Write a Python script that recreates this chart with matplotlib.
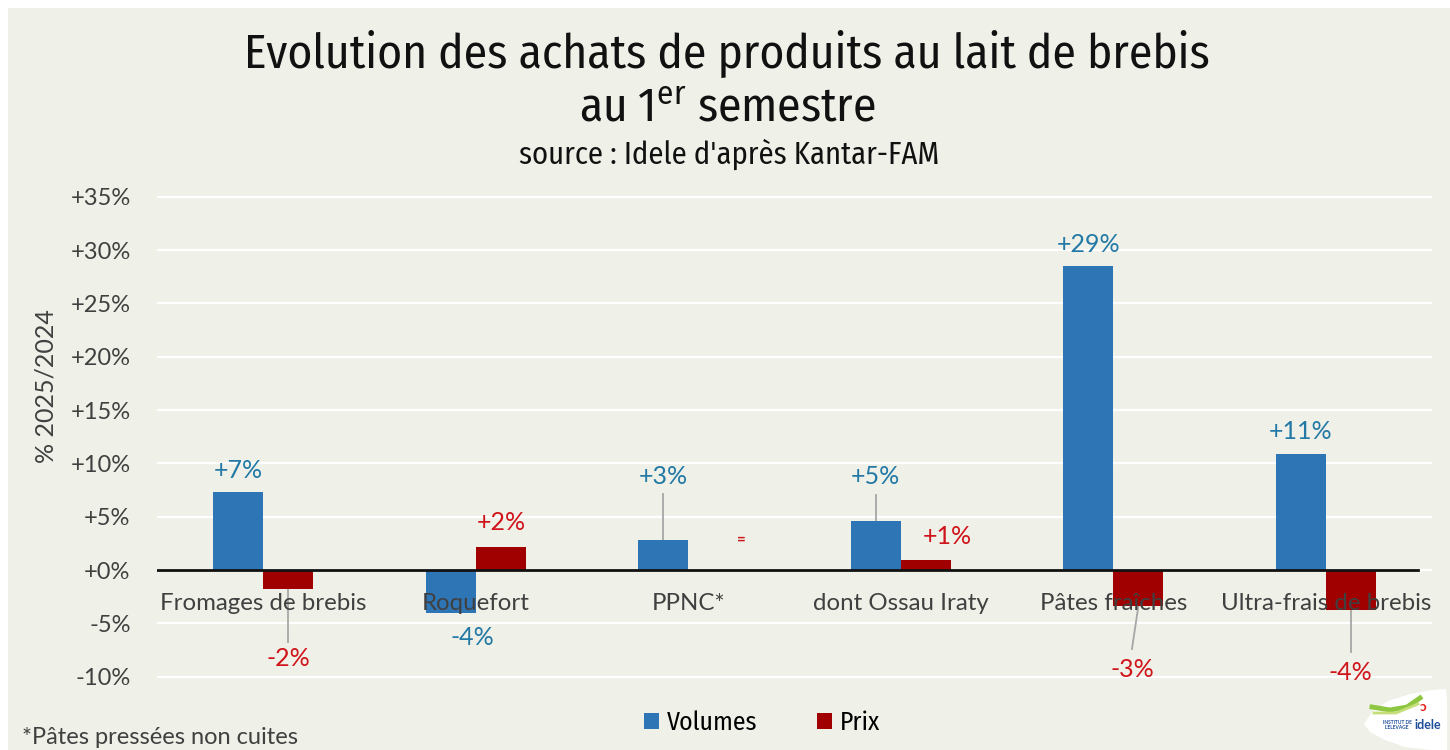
import numpy as np
import matplotlib
matplotlib.use("Agg")
import matplotlib.pyplot as plt
from matplotlib import font_manager
from matplotlib.patches import Patch, Polygon, Rectangle

# données (évolution 2025/2024, en %)
categories = ["Fromages de brebis", "Roquefort", "PPNC*", "dont Ossau Iraty",
              "Pâtes fraîches", "Ultra-frais de brebis"]
volumes = [7.3, -4.0, 2.8, 4.6, 28.5, 10.9]
prix = [-1.8, 2.2, 0.0, 0.9, -3.4, -3.7]
volumes_txt = ["+7%", "-4%", "+3%", "+5%", "+29%", "+11%"]
prix_txt = ["-2%", "+2%", "=", "+1%", "-3%", "-4%"]
yticks = [-10, -5, 0, 5, 10, 15, 20, 25, 30, 35]

# placement des étiquettes (décalage x, position y)
vol_lab_dx = [0, 0.1, 0, 0, 0, 0]
vol_lab_y = [9.37, -6.37, 8.81, 8.81, 30.55, 13.03]
prix_lab_dx = [0, 0, 0.13, 0.10, -0.03, 0]
prix_lab_y = [-8.34, 4.45, 2.81, 3.19, -9.28, -9.6]
# traits de rappel : (série, index, y de fin, dx de fin)
leaders = [("prix", 0, -6.75, 0), ("vol", 2, 7.12, 0), ("vol", 3, 7.03, 0),
           ("prix", 4, -7.4, -0.03), ("prix", 5, -7.7, 0)]

BG = "#EFF0E8"
BLUE = "#2E75B6"
RED = "#A00000"
BLUE_TXT = "#2279A6"
RED_TXT = "#D0141B"
GREY_TXT = "#404040"

# police condensée pour le titre
avail = {f.name for f in font_manager.fontManager.ttflist}
title_font = "DejaVu Sans"
title_stretch = "condensed"
for cand in ["Fira Sans Condensed", "Roboto Condensed", "Liberation Sans Narrow",
             "Open Sans Condensed", "Noto Sans Condensed"]:
    if cand in avail:
        title_font = cand
        title_stretch = "normal"
        break
body_font = "Lato" if "Lato" in avail else "DejaVu Sans"

plt.rcParams["font.family"] = [body_font, "DejaVu Sans"]
plt.rcParams["mathtext.fontset"] = "custom"
plt.rcParams["mathtext.rm"] = title_font

W, H = 1450, 750
fig = plt.figure(figsize=(W / 100, H / 100), dpi=100, facecolor="white")
fig.patches.append(Rectangle((8 / W, 0), 1, 1 - 8 / H, transform=fig.transFigure,
                             facecolor=BG, edgecolor="none", zorder=-10))

ax = fig.add_axes([157 / W, 0.0835, 1275 / W, 0.6685])
ax.set_facecolor(BG)
ax.patch.set_alpha(0)

x = np.arange(len(categories))
w = 0.236
ax.bar(x - w / 2, volumes, w, color=BLUE, zorder=3, label="Volumes")
ax.bar(x + w / 2, prix, w, color=RED, zorder=3, label="Prix")

ax.set_xlim(-0.5, 5.5)
ax.set_ylim(-11, 36)
ax.set_yticks(yticks)
ax.set_yticklabels([f"{v:+d}%" for v in yticks], fontsize=17, color=GREY_TXT)
ax.tick_params(axis="y", length=0, pad=19)
ax.set_xticks([])
for s in ax.spines.values():
    s.set_visible(False)
ax.grid(axis="y", color="white", lw=1.6, zorder=0)
ax.axhline(0, xmin=0, xmax=0.989, color="#111111", lw=2, zorder=4)

for i, cat in enumerate(categories):
    ax.text(i, -3.1, cat, ha="center", va="center", fontsize=17.3,
            color=GREY_TXT, zorder=6)

for i in range(len(categories)):
    ax.text(i - w / 2 + vol_lab_dx[i], vol_lab_y[i], volumes_txt[i], ha="center",
            va="center", fontsize=18, color=BLUE_TXT, zorder=6)
    if prix_txt[i] == "=":
        ax.text(i + w / 2 + prix_lab_dx[i], prix_lab_y[i], "=", ha="center",
                va="center", fontsize=11, fontweight="bold", color=RED_TXT, zorder=6)
    else:
        ax.text(i + w / 2 + prix_lab_dx[i], prix_lab_y[i], prix_txt[i], ha="center",
                va="center", fontsize=18, color=RED_TXT, zorder=6)

for serie, i, y_end, dx_end in leaders:
    if serie == "vol":
        x0, y0 = i - w / 2, volumes[i]
    else:
        x0, y0 = i + w / 2, prix[i]
    ax.plot([x0, x0 + dx_end], [y0, y_end], color="#A6A6A6", lw=1.3, zorder=2)

# titres
fig.text(0.5015, 1 - 68 / H, "Evolution des achats de produits au lait de brebis",
         ha="center", va="baseline", fontsize=34.2, family=title_font,
         fontstretch=title_stretch, color="#111111")
fig.text(0.5015, 1 - 122 / H, r"au 1$^{\mathrm{er}}$ semestre",
         ha="center", va="baseline", fontsize=34, family=title_font,
         fontstretch=title_stretch, color="#111111")
fig.text(0.503, 1 - 164 / H, "source : Idele d'après Kantar-FAM",
         ha="center", va="baseline", fontsize=22, family=title_font,
         fontstretch=title_stretch, color="#111111")

fig.text(46 / W, 1 - 386 / H, "% 2025/2024", rotation=90, ha="center", va="center",
         fontsize=18, color=GREY_TXT)
fig.text(22 / W, 1 - 737 / H, "*Pâtes pressées non cuites", ha="left", va="center",
         fontsize=17, color=GREY_TXT)

handles = [Patch(facecolor=BLUE), Patch(facecolor=RED)]
fig.legend(handles, ["Volumes", "Prix"], loc="center",
           bbox_to_anchor=(762 / W, 1 - 723 / H), ncol=2, frameon=False,
           handlelength=0.6, handleheight=0.6, handletextpad=0.3, columnspacing=2.3,
           prop={"family": title_font, "stretch": title_stretch, "size": 18.5})

# logo idele (approximation)
logo = [(1364, 724), (1372, 712), (1388, 701), (1410, 694), (1432, 690), (1446, 689),
        (1447, 700), (1447, 750), (1430, 750), (1405, 747), (1385, 740), (1370, 732)]
fig.patches.append(Polygon([(px / W, 1 - py / H) for px, py in logo], closed=True,
                           transform=fig.transFigure, facecolor="white",
                           edgecolor="none", zorder=5))
fig.lines.append(plt.Line2D([1372 / W, 1390 / W, 1407 / W, 1420 / W],
                            [1 - 707 / H, 1 - 710 / H, 1 - 707 / H, 1 - 698 / H],
                            transform=fig.transFigure, color="#8DC63F", lw=3.5, zorder=6))
fig.lines.append(plt.Line2D([1374 / W, 1396 / W, 1418 / W],
                            [1 - 713 / H, 1 - 713 / H, 1 - 704 / H],
                            transform=fig.transFigure, color="#C5DE7A", lw=2, zorder=6))
fig.text(1423 / W, 1 - 707 / H, "ɔ", ha="center", va="center", fontsize=10,
         fontweight="bold", color="#E2231A", zorder=7)
fig.text(1428 / W, 1 - 725 / H, "idele", ha="center", va="center", fontsize=9,
         fontweight="bold", color="#1F4E9A", zorder=7)
fig.text(1397 / W, 1 - 725 / H, "INSTITUT DE\nL'ELEVAGE", ha="center", va="center",
         fontsize=3.5, fontweight="bold", color="#1F4E9A", zorder=7, linespacing=1)

fig.savefig("out.png", dpi=100, facecolor=fig.get_facecolor())
